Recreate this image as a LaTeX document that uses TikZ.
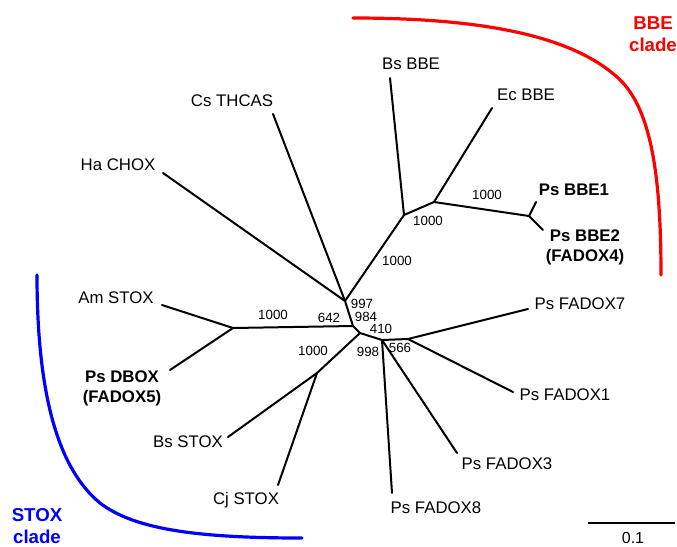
\documentclass[tikz,border=0pt]{standalone}
\usepackage{fontspec}
\setmainfont{Liberation Sans}
\begin{document}
\begin{tikzpicture}[x=0.75pt,y=-0.75pt,
  branch/.style={line width=1.5pt,line cap=round,line join=round},
  leaf/.style={inner sep=0pt,font=\fontsize{12.6}{15}\selectfont,align=center},
  boldleaf/.style={leaf,font=\fontsize{12.6}{15}\selectfont\bfseries},
  boot/.style={inner sep=0pt,font=\fontsize{10}{12}\selectfont},
  clade/.style={line width=2.4pt,line cap=round},
  cladelabel/.style={inner sep=0pt,align=center,font=\fontsize{14}{16.5}\selectfont\bfseries}]
\useasboundingbox (0,0) rectangle (677,546);
\definecolor{bbered}{RGB}{255,0,0}
\definecolor{stoxblue}{RGB}{0,0,255}
% internal nodes
\coordinate (A) at (345,301);
\coordinate (B) at (353,326);
\coordinate (C) at (360,333);
\coordinate (D) at (382,340);
\coordinate (E) at (408,339);
\coordinate (F) at (317,373);
\coordinate (G) at (233,328);
\coordinate (H) at (404,215);
\coordinate (I) at (434,202);
\coordinate (J) at (529,216);
% leaf ends
\coordinate (lHa) at (163,173);
\coordinate (lCs) at (273,114);
\coordinate (lBsB) at (390,78);
\coordinate (lEc) at (492,108);
\coordinate (lB1) at (536,202);
\coordinate (lB2) at (543,230);
\coordinate (lAm) at (162,305);
\coordinate (lDB) at (170,370);
\coordinate (lBsS) at (228,437);
\coordinate (lCj) at (278,485);
\coordinate (lF8) at (392,493);
\coordinate (lF3) at (457,453);
\coordinate (lF1) at (513,392);
\coordinate (lF7) at (528,309);
% branches
\draw[branch] (A) -- (lHa);
\draw[branch] (A) -- (lCs);
\draw[branch] (A) -- (H);
\draw[branch] (A) -- (B);
\draw[branch] (B) -- (G);
\draw[branch] (B) -- (C);
\draw[branch] (C) -- (F);
\draw[branch] (C) -- (D);
\draw[branch] (D) -- (E);
\draw[branch] (D) -- (lF8);
\draw[branch] (D) -- (lF3);
\draw[branch] (E) -- (lF7);
\draw[branch] (E) -- (lF1);
\draw[branch] (F) -- (lBsS);
\draw[branch] (F) -- (lCj);
\draw[branch] (G) -- (lAm);
\draw[branch] (G) -- (lDB);
\draw[branch] (H) -- (lBsB);
\draw[branch] (H) -- (I);
\draw[branch] (I) -- (lEc);
\draw[branch] (I) -- (J);
\draw[branch] (J) -- (lB1);
\draw[branch] (J) -- (lB2);
% leaf labels
\node[leaf] (tHa) at (118,165) {Ha CHOX};
\node[leaf] (tCs) at (232,101) {Cs THCAS};
\node[leaf] (tBsB) at (411,64) {Bs BBE};
\node[leaf] (tEc) at (526,95) {Ec BBE};
\node[boldleaf] (tB1) at (574,190) {Ps BBE1};
\node[boldleaf] (tB2) at (585,247) {Ps BBE2\\(FADOX4)};
\node[leaf] (tAm) at (116,298) {Am STOX};
\node[boldleaf] (tDB) at (122,388) {Ps DBOX\\(FADOX5)};
\node[leaf] (tBsS) at (188,442) {Bs STOX};
\node[leaf] (tCj) at (246,500) {Cj STOX};
\node[leaf] (tF8) at (436,508) {Ps FADOX8};
\node[leaf] (tF3) at (507,464) {Ps FADOX3};
\node[leaf] (tF1) at (565,395) {Ps FADOX1};
\node[leaf] (tF7) at (580,304) {Ps FADOX7};
% bootstrap values
\node[boot] (b997) at (362,304) {997};
\node[boot] (b984) at (366,317) {984};
\node[boot] (b410) at (381,329) {410};
\node[boot] (b642) at (329,318) {642};
\node[boot] (bG) at (273,315) {1000};
\node[boot] (bF) at (313,351) {1000};
\node[boot] (b998) at (368,352) {998};
\node[boot] (b566) at (400,348) {566};
\node[boot] (bH) at (397,261) {1000};
\node[boot] (bI) at (428,221) {1000};
\node[boot] (bJ) at (487,195) {1000};
% clade arcs
\coordinate (r0) at (353,18);
\coordinate (r1) at (617,77);
\coordinate (r2) at (661,275);
\draw[clade,bbered] (r0) .. controls (480,18) and (570,35) .. (r1)
  .. controls (650,106) and (661,170) .. (r2);
\node[cladelabel,text=bbered] (tBBE) at (653,34) {BBE\\clade};
\coordinate (u0) at (37,275);
\coordinate (u1) at (100,503);
\coordinate (u2) at (302,538);
\draw[clade,stoxblue] (u0) .. controls (37,400) and (60,470) .. (u1)
  .. controls (135,530) and (200,538) .. (u2);
\node[cladelabel,text=stoxblue] (tSTOX) at (37,526) {STOX\\clade};
% scale bar
\coordinate (s1) at (588,523);
\coordinate (s2) at (675,523);
\draw[line width=1.5pt] (s1) -- (s2);
\node[boot,font=\fontsize{12}{14}\selectfont] (tscale) at (633,538) {0.1};
\end{tikzpicture}
\end{document}
